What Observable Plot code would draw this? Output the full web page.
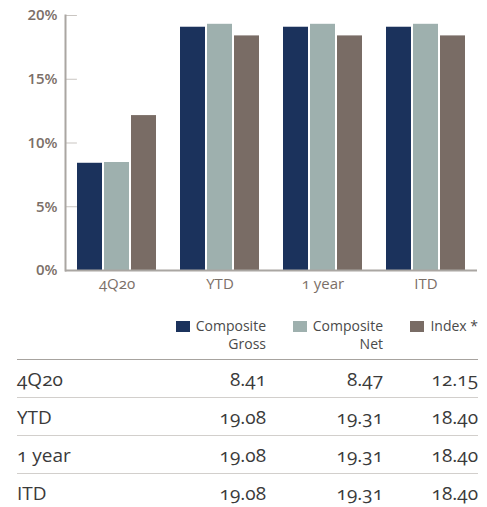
<!DOCTYPE html>
<html>
<head>
<meta charset="utf-8">
<script src="https://cdn.jsdelivr.net/npm/d3@7"></script>
<script src="https://cdn.jsdelivr.net/npm/@observablehq/plot@0.6"></script>
<style>
  html, body { margin: 0; padding: 0; background: #fff; }
  body { width: 487px; font-family: "Open Sans", sans-serif; }
  #chart svg { display: block; }
  table { border-collapse: collapse; margin-left: 17px; width: 461px; table-layout: fixed; font-variant-numeric: oldstyle-nums; }
  th { font-weight: 400; font-size: 14px; color: #4a4a4a; text-align: right; line-height: 18px; padding: 17px 0 6px 0; vertical-align: top; border-bottom: 1.5px solid #a7a39f; }
  td { font-size: 19px; color: #3a3a3a; height: 37px; padding: 0; vertical-align: middle; text-align: right; border-bottom: 1.5px solid #d2cfcc; }
  td:first-child { text-align: left; }
  tr:last-child td { border-bottom: none; }
  .sw { display: inline-block; width: 14px; height: 11px; margin-right: 6px; vertical-align: -1px; }
</style>
</head>
<body>
<div id="chart"></div>
<table id="tbl"></table>
<script>
const categories = ["4Q20", "YTD", "1 year", "ITD"];
const series = ["Composite Gross", "Composite Net", "Index *"];
const legendLines = [["Composite", "Gross"], ["Composite", "Net"], ["Index *", ""]];
const gross = [8.41, 19.08, 19.08, 19.08];
const net = [8.47, 19.31, 19.31, 19.31];
const indexVals = [12.15, 18.40, 18.40, 18.40];
const colors = ["#1b325c", "#9eb0ae", "#796c65"];
const yTicks = [0, 5, 10, 15, 20];

const values = [gross, net, indexVals];
const data = categories.flatMap((c, i) => series.map((s, j) => ({cat: c, s, v: values[j][i]})));
const firstFacet = yTicks.map(t => ({cat: categories[0], t}));

const axisColor = "#7b6f68";
const lineColor = "#aaa6a2";
const tickShape = {draw(context, l) { context.moveTo(0, 0); context.lineTo(0, -l); }};
const chart = Plot.plot({
  width: 487,
  height: 300,
  marginLeft: 64,
  marginRight: 9,
  marginTop: 15,
  marginBottom: 30,
  style: {fontFamily: "Open Sans, sans-serif", background: "#fff"},
  fx: {domain: categories, padding: 0, label: null},
  x: {domain: series, paddingInner: 0.0909, paddingOuter: 0.427, axis: null},
  y: {domain: [0, 20], label: null},
  color: {domain: series, range: colors},
  marks: [
    Plot.barY(data, {fx: "cat", x: "s", y: "v", fill: "s"}),
    Plot.vector(firstFacet, {fx: "cat", y: "t", frameAnchor: "left", length: 11, rotate: 90, anchor: "start", shape: tickShape, stroke: "#c9c5c1", strokeWidth: 1}),
    Plot.ruleY([0], {stroke: lineColor, strokeWidth: 2}),
    Plot.frame({anchor: "left", facetAnchor: "left", stroke: lineColor, strokeWidth: 2}),
    Plot.axisY({
      ticks: yTicks,
      tickFormat: d => d + "%",
      tickSize: 0,
      tickPadding: 8,
      color: axisColor,
      fill: axisColor,
      fontSize: 15,
      fontWeight: 600,
      fontVariant: "lining-nums",
      label: null
    }),
    Plot.axisFx({
      anchor: "bottom",
      tickSize: 0,
      tickPadding: 8,
      fill: axisColor,
      fontSize: 15,
      fontVariant: "oldstyle-nums",
      label: null
    })
  ]
});
document.getElementById("chart").appendChild(chart);

// legend header + table
const tbl = document.getElementById("tbl");
const colWidths = [150, 99, 117, 95];
const cg = document.createElement("colgroup");
colWidths.forEach(w => { const c = document.createElement("col"); c.style.width = w + "px"; cg.appendChild(c); });
tbl.appendChild(cg);
const hr = document.createElement("tr");
hr.appendChild(document.createElement("th"));
series.forEach((s, j) => {
  const th = document.createElement("th");
  th.innerHTML = `<span class="sw" style="background:${colors[j]}"></span>${legendLines[j][0]}` + (legendLines[j][1] ? `<br>${legendLines[j][1]}` : "<br>&nbsp;");
  hr.appendChild(th);
});
tbl.appendChild(hr);
categories.forEach((c, i) => {
  const tr = document.createElement("tr");
  const td0 = document.createElement("td");
  td0.textContent = c;
  tr.appendChild(td0);
  values.forEach(arr => {
    const td = document.createElement("td");
    td.textContent = arr[i].toFixed(2);
    tr.appendChild(td);
  });
  tbl.appendChild(tr);
});
</script>
</body>
</html>
